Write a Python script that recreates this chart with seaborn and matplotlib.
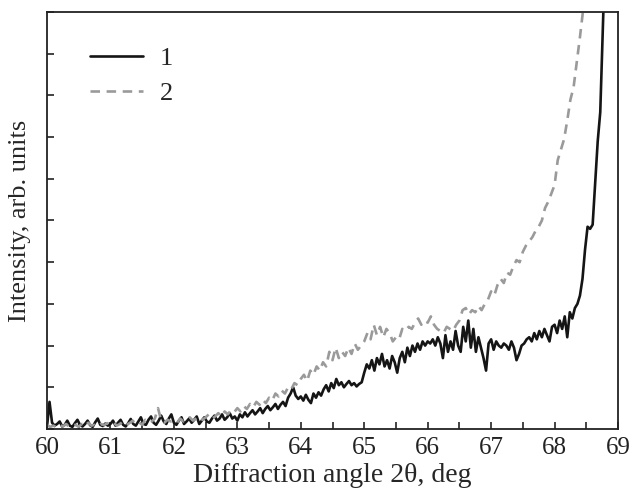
import matplotlib
matplotlib.use("Agg")
import matplotlib.pyplot as plt
import numpy as np
import pandas as pd
import seaborn as sns

# curve 1: step 0.04 deg from 60.00
angle_1 = np.round(np.arange(221) * 0.04 + 60.0, 2)
intensity_1 = [
    # 60
    0.05, 0.65, 0.15, 0.08, 0.12, 0.18, 0.06, 0.1, 0.2, 0.08, 0.05, 0.14, 0.22,
    0.1, 0.06, 0.12, 0.2, 0.09, 0.05, 0.16, 0.25, 0.1, 0.07, 0.13, 0.08,
    # 61
    0.12, 0.2, 0.08, 0.15, 0.22, 0.1, 0.06, 0.14, 0.24, 0.12, 0.08, 0.18, 0.28,
    0.12, 0.1, 0.22, 0.3, 0.15, 0.1, 0.2, 0.32, 0.18, 0.12, 0.25, 0.35,
    # 62
    0.15, 0.1, 0.2, 0.28, 0.12, 0.18, 0.25, 0.15, 0.22, 0.3, 0.12, 0.2, 0.28,
    0.18, 0.15, 0.25, 0.32, 0.2, 0.25, 0.35, 0.22, 0.28, 0.38, 0.25, 0.3,
    # 63
    0.2, 0.35, 0.28, 0.4, 0.3, 0.38, 0.45, 0.35, 0.42, 0.5, 0.38, 0.48, 0.55,
    0.45, 0.52, 0.6, 0.48, 0.58, 0.65, 0.55, 0.75, 0.85, 1.0, 0.8, 0.72,
    # 64
    0.78, 0.68, 0.82, 0.7, 0.62, 0.85, 0.75, 0.88, 0.8, 0.95, 1.05, 0.9, 1.1,
    0.98, 1.2, 1.05, 1.12, 1.0, 1.08, 1.15, 1.05, 1.1, 1.02, 1.08, 1.12,
    # 65
    1.35, 1.55, 1.45, 1.65, 1.4, 1.7, 1.55, 1.8, 1.5, 1.65, 1.45, 1.75, 1.6,
    1.35, 1.7, 1.85, 1.6, 1.95, 1.75, 2.0, 1.85, 2.05, 1.9, 2.1, 2.0,
    # 66
    2.1, 2.05, 2.15, 2.0, 2.2, 2.05, 1.7, 2.25, 1.85, 2.1, 1.9, 2.35, 2.0,
    1.85, 2.45, 2.1, 2.6, 1.95, 2.4, 1.85, 2.2, 1.95, 1.7, 1.4, 2.05,
    # 67
    2.15, 1.9, 2.1, 2.0, 1.95, 2.05, 2.0, 1.9, 2.1, 1.95, 1.65, 1.8, 2.0,
    2.05, 2.15, 2.2, 2.1, 2.3, 2.15, 2.35, 2.2, 2.4, 2.25, 2.1, 2.45,
    # 68
    2.5, 2.3, 2.6, 2.4, 2.7, 2.2, 2.8, 2.65, 2.9, 3.0, 3.2, 3.6, 4.3,
    4.85, 4.8, 4.9, 5.9, 6.9, 7.6, 9.6, 11.5,
]

# curve 2: step 0.05 deg from 60.00
angle_2 = np.round(np.arange(171) * 0.05 + 60.0, 2)
intensity_2 = [
    # 60
    0.1, 0.05, 0.08, 0.04, 0.1, 0.06, 0.12, 0.05, 0.08, 0.1,
    0.05, 0.12, 0.07, 0.15, 0.08, 0.1, 0.06, 0.12, 0.09, 0.14,
    # 61
    0.1, 0.15, 0.08, 0.12, 0.18, 0.1, 0.14, 0.2, 0.12, 0.16,
    0.1, 0.22, 0.15, 0.18, 0.25, 0.5, 0.2, 0.15, 0.22, 0.18,
    # 62
    0.2, 0.15, 0.25, 0.18, 0.22, 0.28, 0.2, 0.25, 0.3, 0.22,
    0.28, 0.35, 0.25, 0.3, 0.38, 0.3, 0.42, 0.35, 0.45, 0.4,
    # 63
    0.5, 0.42, 0.55, 0.48, 0.6, 0.52, 0.65, 0.58, 0.7, 0.62,
    0.75, 0.68, 0.85, 0.78, 0.92, 0.85, 1.0, 0.95, 1.1, 1.05,
    # 64
    1.2, 1.3, 1.15, 1.4, 1.3, 1.5, 1.4, 1.6, 1.5, 1.85,
    1.65, 1.95, 1.7, 1.85, 1.75, 1.95, 1.8, 2.05, 1.9, 2.0,
    # 65
    2.1, 2.3, 2.15, 2.5, 2.25, 2.45, 2.2, 2.4, 2.3, 2.1,
    2.2, 2.15, 2.4, 2.35, 2.45, 2.4, 2.55, 2.65, 2.5, 2.6,
    # 66
    2.55, 2.7, 2.5, 2.4, 2.35, 2.3, 2.45, 2.4, 2.35, 2.5,
    2.6, 2.85, 2.9, 2.75, 2.85, 2.8, 2.95, 2.85, 3.0, 3.1,
    # 67
    3.3, 3.2, 3.45, 3.6, 3.5, 3.75, 3.7, 3.9, 4.05, 4.0,
    4.25, 4.4, 4.5, 4.6, 4.75, 4.85, 5.0, 5.3, 5.45, 5.65,
    # 68
    5.85, 6.45, 6.7, 6.95, 7.4, 7.9, 8.2, 8.8, 9.4, 10.05, 10.6,
]

df = pd.concat([
    pd.DataFrame({"angle": angle_1, "intensity": intensity_1, "curve": "1"}),
    pd.DataFrame({"angle": angle_2, "intensity": intensity_2, "curve": "2"}),
])

sns.set_style("ticks")
plt.rcParams["font.family"] = ["Liberation Serif", "DejaVu Serif"]

fig = plt.figure(figsize=(6.34, 4.98), dpi=100)
ax = fig.add_axes([0.0741, 0.1386, 0.9007, 0.8373])

sns.lineplot(
    data=df, x="angle", y="intensity", hue="curve", style="curve",
    palette={"1": "#151515", "2": "#9a9a9a"},
    dashes={"1": "", "2": (3.6, 2.5)},
    linewidth=1.9, ax=ax, sort=False,
)

ax.set_xlim(60, 69)
ax.set_ylim(0, 10)
ax.set_xticks(np.arange(60, 70, 1))
ax.set_xticks(np.arange(60.5, 69, 1), minor=True)
ax.set_yticks(np.arange(0, 11, 1))
ax.set_yticklabels([])
ax.tick_params(axis="both", which="both", direction="in", length=5, width=1.2,
               labelsize=18, colors="#222222")
ax.tick_params(axis="x", pad=6)
for s in ax.spines.values():
    s.set_linewidth(1.3)
    s.set_color("#222222")

ax.set_xlabel("Diffraction angle 2θ, deg", fontsize=20, labelpad=3)
ax.set_ylabel("Intensity, arb. units", fontsize=19, labelpad=8)

leg = ax.legend(loc="upper left", bbox_to_anchor=(0.075, 0.916), frameon=False,
                borderpad=0, borderaxespad=0, fontsize=19, handlelength=2.0,
                labelspacing=0.42, handletextpad=0.65)

fig.savefig("out.png", dpi=100)
